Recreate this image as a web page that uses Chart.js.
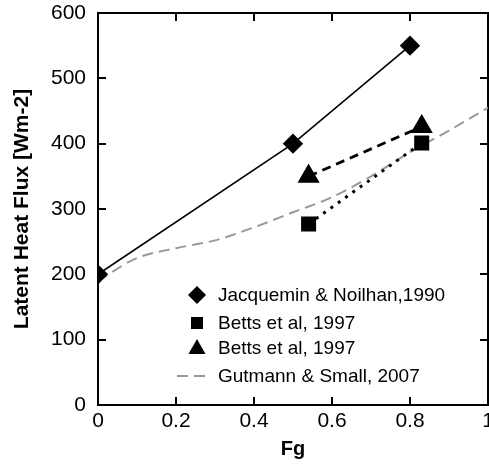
<!DOCTYPE html>
<html>
<head>
<meta charset="utf-8">
<script src="https://cdn.jsdelivr.net/npm/chart.js@4/dist/chart.umd.min.js"></script>
<style>
  html, body { margin: 0; padding: 0; background: #fff; }
  #wrap { width: 489px; height: 464px; position: relative; }
</style>
</head>
<body>
<div id="wrap"><canvas id="chart"></canvas></div>
<script>
// data
const fgJacq = [0, 0.5, 0.8];
const lhJacq = [200, 400, 550];
const fgBettsSq = [0.54, 0.83];
const lhBettsSq = [277, 401];
const fgBettsTri = [0.54, 0.83];
const lhBettsTri = [350, 426];
const fgGut = [0, 0.1, 0.2, 0.3, 0.4, 0.5, 0.6, 0.7, 0.8, 0.9, 1.0];
const lhGut = [190, 225, 240, 252, 272, 295, 318, 350, 387, 420, 455];

const labels = ['Jacquemin & Noilhan,1990', 'Betts et al, 1997', 'Betts et al, 1997', 'Gutmann & Small, 2007'];

function pts(xs, ys) {
  return xs.map((x, i) => ({ x: x, y: ys[i] }));
}

const FONT = 'Liberation Sans, Arial, Helvetica, sans-serif';

// black frame, ticks pointing into the plot (negative tick length)
const frameGrid = { display: true, drawOnChartArea: false, drawTicks: true, tickLength: -8, color: '#000', lineWidth: 2 };
const frameBorder = { display: true, color: '#000', width: 2 };

// legend inside the plot, lower right
const legendPlugin = {
  id: 'insideLegend',
  afterDraw(chart) {
    const ctx = chart.ctx;
    const a = chart.chartArea;
    const mx = a.left + 99, tx = a.left + 120;
    const rows = [a.bottom - 110, a.bottom - 82, a.bottom - 57, a.bottom - 29];
    ctx.save();
    ctx.fillStyle = '#000';
    ctx.font = '19px ' + FONT;
    ctx.textBaseline = 'middle';
    ctx.textAlign = 'left';
    labels.forEach((t, i) => ctx.fillText(t, tx, rows[i] + 1));
    let y = rows[0], r = 9;
    ctx.beginPath();
    ctx.moveTo(mx, y - r); ctx.lineTo(mx + r, y); ctx.lineTo(mx, y + r); ctx.lineTo(mx - r, y);
    ctx.closePath(); ctx.fill();
    y = rows[1];
    ctx.fillRect(mx - 6, y - 6, 12, 12);
    y = rows[2];
    ctx.beginPath();
    ctx.moveTo(mx, y - 9); ctx.lineTo(mx + 8.5, y + 6); ctx.lineTo(mx - 8.5, y + 6);
    ctx.closePath(); ctx.fill();
    y = rows[3];
    ctx.strokeStyle = '#999';
    ctx.lineWidth = 2;
    ctx.setLineDash([11, 6]);
    ctx.beginPath(); ctx.moveTo(mx - 20, y); ctx.lineTo(mx + 13, y); ctx.stroke();
    ctx.restore();
  }
};

new Chart(document.getElementById('chart'), {
  type: 'scatter',
  data: {
    datasets: [{
      label: labels[0],
      data: pts(fgJacq, lhJacq),
      showLine: true,
      borderColor: '#000',
      borderWidth: 1.6,
      pointStyle: 'rectRot',
      pointRadius: 9,
      pointBackgroundColor: '#000',
      pointBorderColor: '#000'
    }, {
      label: labels[1],
      data: pts(fgBettsSq, lhBettsSq),
      showLine: true,
      borderColor: '#000',
      borderWidth: 3,
      borderDash: [3, 6],
      pointStyle: 'rect',
      pointRadius: 8.5,
      pointBackgroundColor: '#000',
      pointBorderColor: '#000'
    }, {
      label: labels[2],
      data: pts(fgBettsTri, lhBettsTri),
      showLine: true,
      borderColor: '#000',
      borderWidth: 2.8,
      borderDash: [9, 6],
      pointStyle: 'triangle',
      pointRadius: 10,
      pointBackgroundColor: '#000',
      pointBorderColor: '#000'
    }, {
      label: labels[3],
      data: pts(fgGut, lhGut),
      showLine: true,
      borderColor: '#999',
      borderWidth: 2,
      borderDash: [11, 6],
      cubicInterpolationMode: 'monotone',
      pointRadius: 0
    }]
  },
  options: {
    responsive: true,
    maintainAspectRatio: false,
    animation: false,
    layout: { autoPadding: false, padding: { top: 13, right: 1, left: 0, bottom: 0 } },
    plugins: { legend: { display: false }, tooltip: { enabled: false } },
    scales: {
      x: {
        type: 'linear', position: 'bottom', min: 0, max: 1,
        afterFit(s) { s.height = 59; s.paddingLeft = 0; s.paddingRight = 0; },
        ticks: { stepSize: 0.2, color: '#000', padding: 12, font: { family: FONT, size: 21 },
                 callback: v => String(+v.toFixed(1)) },
        grid: frameGrid,
        border: frameBorder,
        title: { display: true, text: 'Fg', color: '#000', padding: { top: 0, bottom: 3 },
                 font: { family: FONT, size: 20, weight: 'bold' } }
      },
      x2: {
        type: 'linear', position: 'top', min: 0, max: 1,
        afterFit(s) { s.height = 0; s.paddingLeft = 0; s.paddingRight = 0; },
        ticks: { stepSize: 0.2, display: false },
        grid: frameGrid,
        border: frameBorder
      },
      y: {
        type: 'linear', position: 'left', min: 0, max: 600,
        afterFit(s) { s.width = 98; s.paddingTop = 0; s.paddingBottom = 0; },
        ticks: { stepSize: 100, color: '#000', padding: 20, font: { family: FONT, size: 21 } },
        grid: frameGrid,
        border: frameBorder,
        title: { display: true, text: 'Latent Heat Flux [Wm-2]', color: '#000', padding: { top: 10, bottom: 0 },
                 font: { family: FONT, size: 21, weight: 'bold' } }
      },
      y2: {
        type: 'linear', position: 'right', min: 0, max: 600,
        afterFit(s) { s.width = 0; s.paddingTop = 0; s.paddingBottom = 0; },
        ticks: { stepSize: 100, display: false },
        grid: frameGrid,
        border: frameBorder
      }
    }
  },
  plugins: [legendPlugin]
});
</script>
</body>
</html>
